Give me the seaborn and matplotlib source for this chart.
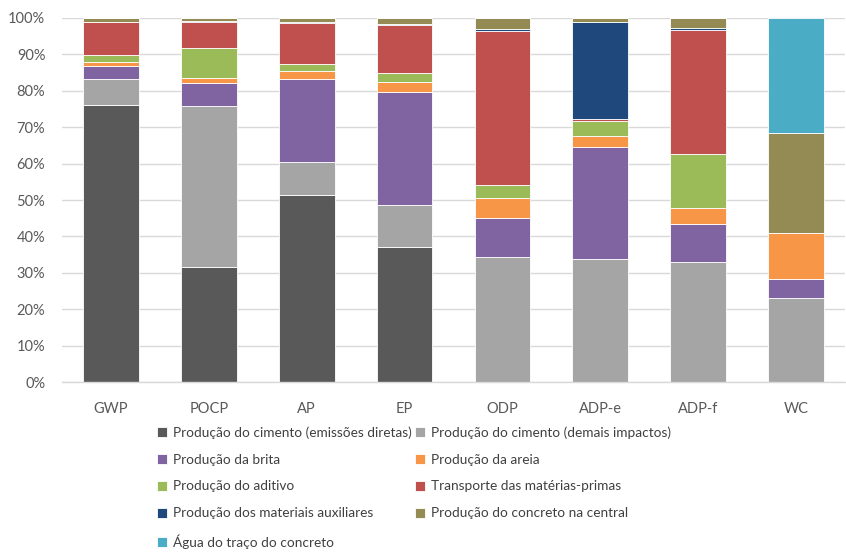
import numpy as np
import pandas as pd
import matplotlib
matplotlib.use("Agg")
import matplotlib.pyplot as plt
from matplotlib.ticker import PercentFormatter, FixedLocator
import seaborn as sns

categories = ["GWP", "POCP", "AP", "EP", "ODP", "ADP-e", "ADP-f", "WC"]

components = [
    "Produção do cimento (emissões diretas)",
    "Produção do cimento (demais impactos)",
    "Produção da brita",
    "Produção da areia",
    "Produção do aditivo",
    "Transporte das matérias-primas",
    "Produção dos materiais auxiliares",
    "Produção do concreto na central",
    "Água do traço do concreto",
]

# share of each stage (%) per impact category
cimento_diretas = [76.0, 31.7, 51.5, 37.2, 0.0, 0.0, 0.0, 0.0]
cimento_demais = [7.1, 44.1, 8.9, 11.4, 34.5, 33.7, 33.0, 23.0]
brita = [3.6, 6.4, 22.8, 31.0, 10.7, 30.9, 10.4, 5.4]
areia = [1.2, 1.2, 2.3, 2.8, 5.4, 3.0, 4.5, 12.6]
aditivo = [1.9, 8.2, 1.8, 2.3, 3.6, 4.1, 14.7, 0.0]
transporte = [9.0, 7.3, 11.3, 13.3, 42.1, 0.5, 34.1, 0.0]
auxiliares = [0.1, 0.2, 0.2, 0.4, 0.6, 26.7, 0.6, 0.0]
central = [1.1, 0.9, 1.2, 1.6, 3.1, 1.1, 2.7, 27.4]
agua = [0.0, 0.0, 0.0, 0.0, 0.0, 0.0, 0.0, 31.6]

series = [cimento_diretas, cimento_demais, brita, areia, aditivo,
          transporte, auxiliares, central, agua]

colors = ["#595959", "#A5A5A5", "#8064A2", "#F79646", "#9BBB59",
          "#C0504D", "#1F497D", "#948A54", "#4BACC6"]

sns.set_theme(style="white")
plt.rcParams["font.family"] = ["Lato", "DejaVu Sans"]

fig = plt.figure(figsize=(8.46, 5.52), dpi=100)
ax = fig.add_axes([62 / 846, 1 - 382.3 / 552, (845 - 62) / 846, (382.3 - 17.7) / 552])

bottom = np.zeros(len(categories))
for name, vals, col in zip(components, series, colors):
    vals = np.asarray(vals) / 100.0
    df = pd.DataFrame({"categoria": categories, "valor": vals})
    sns.barplot(data=df, x="categoria", y="valor", order=categories,
                color=col, saturation=1, errorbar=None, width=0.57,
                bottom=bottom, edgecolor="white", linewidth=0.6,
                label=name, ax=ax)
    bottom = bottom + vals

if ax.get_legend() is not None:
    ax.get_legend().remove()

ax.set_xlim(-0.5, len(categories) - 0.5)
ax.set_ylim(0, 1.0)
ax.set_xlabel("")
ax.set_ylabel("")
ax.yaxis.set_major_locator(FixedLocator(np.arange(0, 1.01, 0.1)))
ax.yaxis.set_major_formatter(PercentFormatter(1.0, decimals=0))
ax.grid(axis="y", color="#D9D9D9", linewidth=1.0)
ax.set_axisbelow(True)

for s in ["top", "right", "left"]:
    ax.spines[s].set_visible(False)
ax.spines["bottom"].set_color("#D9D9D9")
ax.spines["bottom"].set_linewidth(1.0)

ax.tick_params(axis="y", length=0, pad=12, labelsize=10.5, labelcolor="#595959")
ax.tick_params(axis="x", which="major", length=0, pad=14, labelsize=10.5,
               labelcolor="#595959")
ax.set_xticks(np.arange(-0.5, len(categories), 1.0), minor=True)
ax.tick_params(axis="x", which="minor", length=5, width=1.0, color="#D9D9D9",
               direction="out")

handles, labels = ax.get_legend_handles_labels()
order = [0, 2, 4, 6, 8, 1, 3, 5, 7]
fig.legend([handles[i] for i in order], [labels[i] for i in order],
           loc="upper left", bbox_to_anchor=(157 / 846, 1 - 426 / 552),
           ncol=2, frameon=False, fontsize=9.8, labelcolor="#404040",
           handlelength=0.75, handleheight=0.75, handletextpad=0.45,
           columnspacing=0.2, labelspacing=1.1, borderpad=0, borderaxespad=0)

fig.savefig("out.png", dpi=100)
